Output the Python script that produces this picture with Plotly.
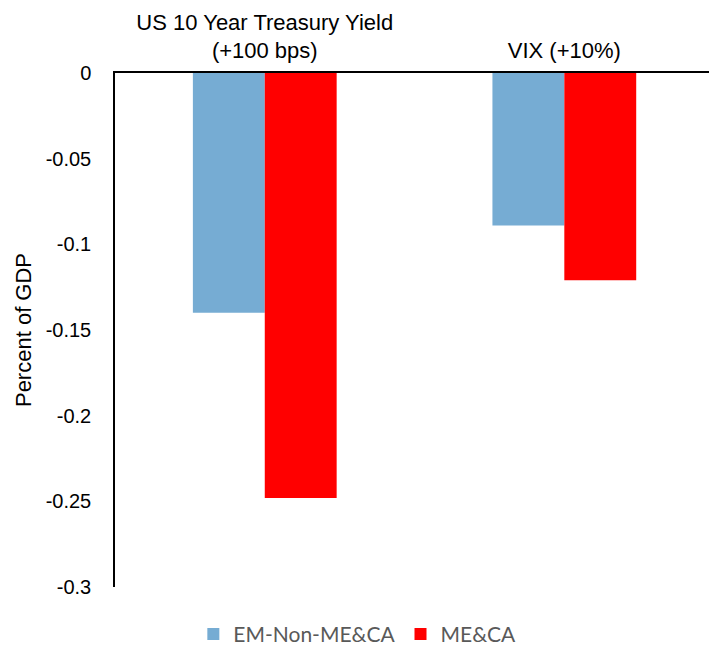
import plotly.graph_objects as go

categories = ["US 10 Year Treasury Yield<br>(+100 bps)", "VIX (+10%)"]
em_non_meca = [-0.140, -0.089]
meca = [-0.248, -0.121]
tick_vals = [0, -0.05, -0.1, -0.15, -0.2, -0.25, -0.3]
tick_labels = ["0", "-0.05", "-0.1", "-0.15", "-0.2", "-0.25", "-0.3"]

fig = go.Figure()
fig.add_trace(go.Bar(x=categories, y=em_non_meca, name="EM-Non-ME&CA",
                     marker=dict(color="#76ACD3", line=dict(width=0))))
fig.add_trace(go.Bar(x=categories, y=meca, name="ME&CA",
                     marker=dict(color="#FF0000", line=dict(width=0))))

fig.update_layout(
    width=709, height=647,
    margin=dict(l=115, r=0, t=73, b=60, autoexpand=False),
    paper_bgcolor="white", plot_bgcolor="white",
    barmode="group", bargap=0.52, bargroupgap=0,
    font=dict(family="Arial, Liberation Sans, sans-serif", size=20, color="black"),
    showlegend=True,
    legend=dict(orientation="h", xref="container", yref="paper",
                x=0.504, xanchor="center", y=-0.132, yanchor="bottom",
                font=dict(family="Lato, sans-serif", size=21, color="#595959"),
                itemwidth=30, tracegroupgap=0),
    xaxis=dict(side="top", type="category", range=[-0.5, 1.483],
               showline=True, linecolor="black", linewidth=1.5,
               ticks="", showgrid=False, zeroline=False, automargin=False,
               ticklabelstandoff=4,
               tickfont=dict(size=22)),
    yaxis=dict(range=[-0.3, 0], tickvals=tick_vals, ticktext=tick_labels,
               showline=True, linecolor="black", linewidth=1.5,
               ticks="", showgrid=False, zeroline=False, automargin=False,
               ticklabelstandoff=18,
               title=dict(text="Percent of GDP", font=dict(size=22), standoff=8)),
)

fig.write_html("out.html", config={"displayModeBar": False},
               post_script="document.body.style.margin='0';")
